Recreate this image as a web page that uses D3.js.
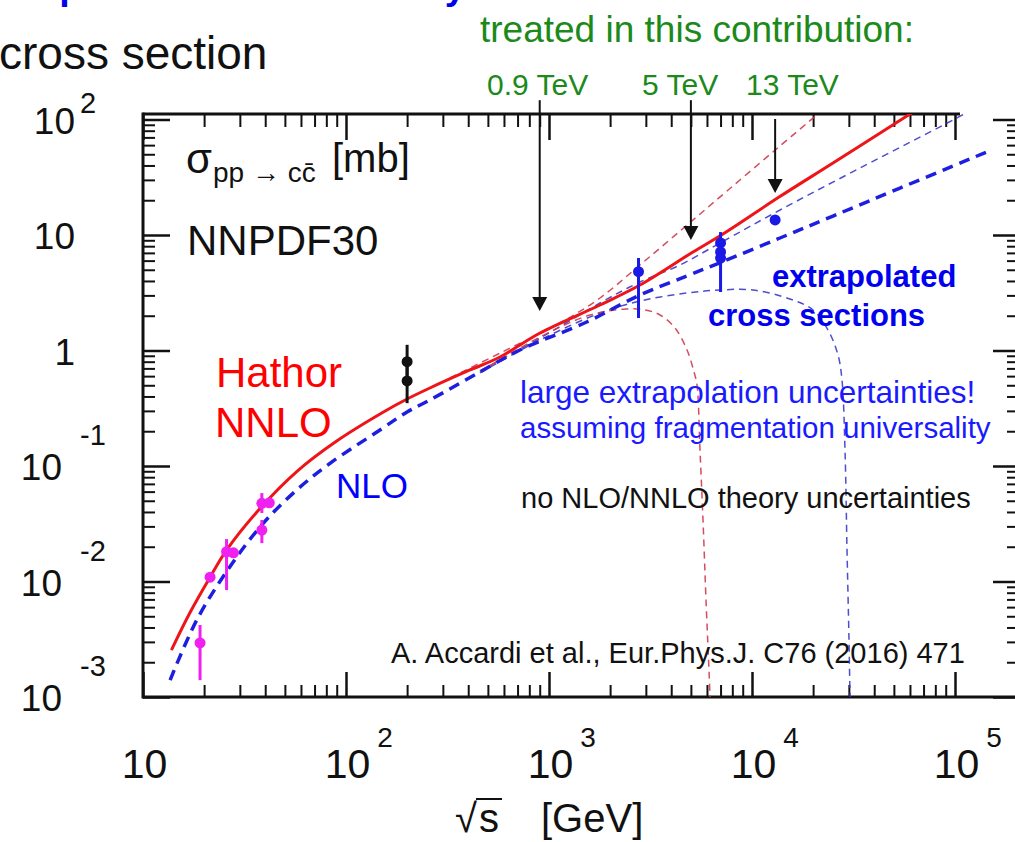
<!DOCTYPE html>
<html>
<head>
<meta charset="utf-8">
<script src="https://cdn.jsdelivr.net/npm/d3@7"></script>
<style>
  body { margin: 0; background: #fff; }
  svg { display: block; }
  text { font-family: "Liberation Sans", Arial, Helvetica, sans-serif; }
</style>
</head>
<body>
<div id="chart"></div>
<script>
// ---- data: [sqrt(s) GeV, sigma mb] ----
const nnloCentral = [[13.8,0.00255],[17.0,0.00534],[21.4,0.0109],[25.8,0.0187],[38.4,0.0444],[57.2,0.0896],
  [90,0.1646],[153,0.2935],[200,0.380],[259,0.4734],[408,0.678],[574,0.878],[903,1.417],[1783,2.477],
  [2806,3.691],[5122,7.13],[7197,10.2],[13590,21.3],[25060,42.0],[60030,111.6],[75300,145]];
const nnloUpper = [[325,0.578],[574,0.95],[1133,1.73],[1783,2.848],[2806,5.50],[4571,11.38],[7531,24.04],
  [13280,56.1],[21140,111.6],[24230,136]];
const nnloLower = [[457,0.652],[903,1.309],[1592,2.03],[2393,2.287],[2972,2.242],[3523,2.03],[4176,1.566],
  [4786,1.01],[5180,0.652],[5359,0.503],[5544,0.1376],[5736,0.0341],[5935,0.00692],[6210,0.001],[6281,0.00042]];
const nloCentral = [[13.6,0.0014],[18.4,0.00464],[26.8,0.01343],[39.1,0.0319],[57.2,0.062],[83.4,0.1055],
  [147,0.205],[200,0.2935],[259,0.3726],[457,0.6516],[719,1.01],[1534,1.765],[2806,3.024],[4768,4.416],
  [7091,5.837],[13740,9.419],[25060,14.6],[53590,25.5],[143200,52.3]];
const nloUpper = [[457,0.665],[903,1.28],[1783,2.578],[2806,3.919],[4419,5.5],[6958,8.526],[13740,16.46],
  [34040,38.03],[97730,99.0],[125500,126]];
const nloLower = [[457,0.639],[903,1.233],[1783,2.11],[2806,2.68],[4786,3.146],[6958,3.341],[10113,3.341],
  [15390,2.792],[19980,2.242],[23680,1.505],[26530,0.914],[27750,0.556],[28720,0.1376],[29380,0.0187],
  [30050,0.00311],[30400,0.001],[30740,0.00042]];

// measurements: [sqrt(s), sigma, low, high]
const fixedTarget = [[19.1,0.00294,0.0014,0.0042],[21.4,0.0109],[25.8,0.0181,0.00843,0.0233],[27.9,0.0177],
  [38.5,0.0475,0.0392,0.0583],[41.9,0.048],[38.5,0.0279,0.0215,0.0341]];
const rhic = [[200,0.80,0.55,1.12],[200,0.545,0.35,0.80]];
const lhcExtrapolated = [[2760,4.81,1.91,6.32],[7000,8.53,3.21,10.6],[7000,7.13],[7000,6.32],[13000,13.5]];

// energies treated in this contribution: [label, sqrt(s), arrow start sigma, arrow tip sigma]
const treated = [["0.9 TeV",900,147,2.2],["5 TeV",5000,147,9.05],["13 TeV",13000,101,23.1]];

const xMajor = [10, 100, 1e3, 1e4, 1e5];
const xExp = ["", "2", "3", "4", "5"];
const yMajor = [1e-3, 1e-2, 1e-1, 1, 10, 100];
const yBase = ["10", "10", "10", "1", "10", "10"];
const yExp = ["-3", "-2", "-1", "", "", "2"];

// ---- layout ----
const W = 1015, H = 842;
const pLeft = 143, pBottom = 697, pTop = 114, pRight = 1016, topLineEnd = 960;
const decX = 203, decY = 115.5;

const svg = d3.select('#chart').append('svg')
  .attr('width', W).attr('height', H);

const x = d3.scaleLog().domain([10, 2e5]).range([pLeft, pLeft + decX * Math.log10(2e4)]);
const y = d3.scaleLog().domain([1e-3, 100]).range([pBottom, pBottom - 5 * decY]);

function minorTicks(lo, hi) {
  const out = [];
  for (let e = Math.floor(Math.log10(lo)); e <= Math.ceil(Math.log10(hi)); e++)
    for (let k = 1; k <= 9; k++) {
      const v = k * Math.pow(10, e);
      if (v >= lo * 0.999 && v <= hi * 1.001) out.push(v);
    }
  return out;
}
const isMajor = (list, v) => list.some(m => Math.abs(m - v) < m * 1e-6);
const xMinorAll = minorTicks(10, 2e5).filter(v => !isMajor(xMajor, v));
const yMinorAll = minorTicks(1e-3, 110).filter(v => !isMajor(yMajor, v));

// ---- ticks ----
function tickGroup(axis, tx, ty, width) {
  svg.append('g')
    .attr('transform', `translate(${tx},${ty})`)
    .call(axis.tickFormat(''))
    .call(g => g.select('.domain').remove())
    .call(g => g.selectAll('line').attr('stroke', '#111').attr('stroke-width', width));
}
tickGroup(d3.axisBottom(x).tickValues(xMinorAll).tickSize(-12), 0, pBottom, 2);
tickGroup(d3.axisBottom(x).tickValues(xMajor).tickSize(-25), 0, pBottom, 2.5);
tickGroup(d3.axisTop(x).tickValues(xMinorAll.filter(v => v <= 1e5)).tickSize(-13), 0, pTop, 2);
tickGroup(d3.axisTop(x).tickValues(xMajor).tickSize(-26), 0, pTop, 2.5);
tickGroup(d3.axisLeft(y).tickValues(yMinorAll).tickSize(-12), pLeft, 0, 2);
tickGroup(d3.axisLeft(y).tickValues(yMajor).tickSize(-27), pLeft, 0, 2.5);
tickGroup(d3.axisRight(y).tickValues(yMinorAll).tickSize(-9), pRight, 0, 2);
tickGroup(d3.axisRight(y).tickValues(yMajor).tickSize(-23), pRight, 0, 2.5);

// frame
const frame = svg.append('g').attr('stroke', '#111').attr('stroke-width', 3);
frame.append('line').attr('x1', pLeft).attr('x2', pLeft).attr('y1', pTop - 1.5).attr('y2', pBottom + 1.5);
frame.append('line').attr('x1', pLeft).attr('x2', topLineEnd).attr('y1', pTop).attr('y2', pTop);
frame.append('line').attr('x1', pLeft).attr('x2', W).attr('y1', pBottom).attr('y2', pBottom);

// ---- tick labels ----
const xl = svg.append('g').attr('fill', '#111');
xMajor.forEach((v, i) => {
  const t = xl.append('text').attr('x', x(v) + 1.5).attr('y', 778)
    .attr('text-anchor', 'middle').attr('font-size', 41).text('10');
  if (xExp[i]) {
    const w = t.node().getComputedTextLength();
    xl.append('text').attr('x', x(v) + 1.5 + w / 2 + 7).attr('y', 747)
      .attr('font-size', 28).text(xExp[i]);
  }
});
const yl = svg.append('g').attr('fill', '#111');
yMajor.forEach((v, i) => {
  const neg = yExp[i].startsWith('-');
  yl.append('text').attr('x', neg ? 62 : 75).attr('y', y(v) + 14)
    .attr('text-anchor', 'end').attr('font-size', 37).text(yBase[i]);
  if (yExp[i])
    yl.append('text').attr('x', 80).attr('y', y(v) - (neg ? 21 : 6.5))
      .attr('font-size', 29).text(yExp[i]);
});

// axis title sqrt(s) [GeV]
const xt = svg.append('g').attr('fill', '#111').attr('font-size', 40);
xt.append('text').attr('x', 455).attr('y', 832).text('\u221A');
xt.append('text').attr('x', 479).attr('y', 832).text('s');
xt.append('line').attr('x1', 476).attr('x2', 502).attr('y1', 799).attr('y2', 799)
  .attr('stroke', '#111').attr('stroke-width', 2);
xt.append('text').attr('x', 541).attr('y', 832).text('[GeV]');

// ---- curves ----
svg.append('clipPath').attr('id', 'plot')
  .append('rect').attr('x', pLeft).attr('y', pTop).attr('width', pRight - pLeft).attr('height', pBottom - pTop);
const plot = svg.append('g').attr('clip-path', 'url(#plot)');
const line = d3.line().x(d => x(d[0])).y(d => y(d[1])).curve(d3.curveCatmullRom.alpha(0.5));

const curves = [
  { d: nloUpper,   stroke: '#3a3ac8', w: 1.5, dash: '7,5', op: 0.9 },
  { d: nloLower,   stroke: '#3a3ac8', w: 1.5, dash: '7,5', op: 0.9 },
  { d: nnloUpper,  stroke: '#d03a4a', w: 1.5, dash: '7,5', op: 0.9 },
  { d: nnloLower,  stroke: '#d03a4a', w: 1.5, dash: '7,5', op: 0.9 },
  { d: nloCentral, stroke: '#1e1ee0', w: 3.5, dash: '11,7', op: 1 },
  { d: nnloCentral, stroke: '#ee1418', w: 3, dash: null, op: 1 }
];
plot.selectAll('path.curve')
  .data(curves)
  .join('path')
    .attr('class', 'curve')
    .attr('d', c => line(c.d))
    .attr('fill', 'none')
    .attr('stroke', c => c.stroke)
    .attr('stroke-width', c => c.w)
    .attr('stroke-dasharray', c => c.dash)
    .attr('opacity', c => c.op);

// ---- measurements ----
function drawPoints(data, color) {
  const g = plot.append('g');
  g.selectAll('line')
    .data(data.filter(d => d.length > 2))
    .join('line')
      .attr('x1', d => x(d[0])).attr('x2', d => x(d[0]))
      .attr('y1', d => y(d[2])).attr('y2', d => y(d[3]))
      .attr('stroke', color).attr('stroke-width', 3);
  g.selectAll('circle')
    .data(data)
    .join('circle')
      .attr('cx', d => x(d[0])).attr('cy', d => y(d[1]))
      .attr('r', 5.5).attr('fill', color);
}
drawPoints(fixedTarget, '#f020f0');
drawPoints(rhic, '#111');
drawPoints(lhcExtrapolated, '#1a1ae6');

// ---- arrows for the treated energies ----
const green = '#1b8a1b';
const labelX = [487, 642, 746];
const arrows = svg.append('g');
treated.forEach(([label, e, s0, s1], i) => {
  const ax = x(e), y0 = y(s0), y1 = y(s1);
  arrows.append('line').attr('x1', ax).attr('x2', ax).attr('y1', y0).attr('y2', y1 - 12)
    .attr('stroke', '#111').attr('stroke-width', 2);
  arrows.append('path')
    .attr('d', `M${ax - 7.5},${y1 - 14}L${ax + 7.5},${y1 - 14}L${ax},${y1}Z`)
    .attr('fill', '#111');
  svg.append('text').attr('x', labelX[i]).attr('y', 95)
    .attr('font-size', 30).attr('fill', green).text(label);
});

// ---- annotations ----
function txt(s, px, py, size, color, weight) {
  return svg.append('text').attr('x', px).attr('y', py).attr('font-size', size)
    .attr('fill', color).attr('font-weight', weight || 'normal').text(s);
}
txt('Input: charm uncertainty', 26, -1.5, 37.5, '#0000ee', 'bold');
txt('cross section', -1, 69, 46, '#111');
txt('treated in this contribution:', 480, 42, 37, green);

txt('\u03C3', 186, 173, 42, '#111');
txt('pp \u2192 cc\u0304', 213, 182, 28, '#111');
txt('[mb]', 332, 172, 40, '#111');
txt('NNPDF30', 187, 255, 42, '#111');

txt('Hathor', 216, 387, 42, '#ff0000');
txt('NNLO', 215, 437, 42, '#ff0000');
txt('NLO', 336, 498, 35, '#0000ff');

txt('extrapolated', 772, 287, 31, '#0000ee', 'bold');
txt('cross sections', 708, 326, 31, '#0000ee', 'bold');
txt('large extrapolation uncertainties!', 520, 403, 31.5, '#1a1aff');
txt('assuming fragmentation universality', 520, 438, 29.5, '#1a1aff');
txt('no NLO/NNLO theory uncertainties', 521, 508, 29, '#111');
txt('A. Accardi et al., Eur.Phys.J. C76 (2016) 471', 391, 663, 29, '#111');
</script>
</body>
</html>
